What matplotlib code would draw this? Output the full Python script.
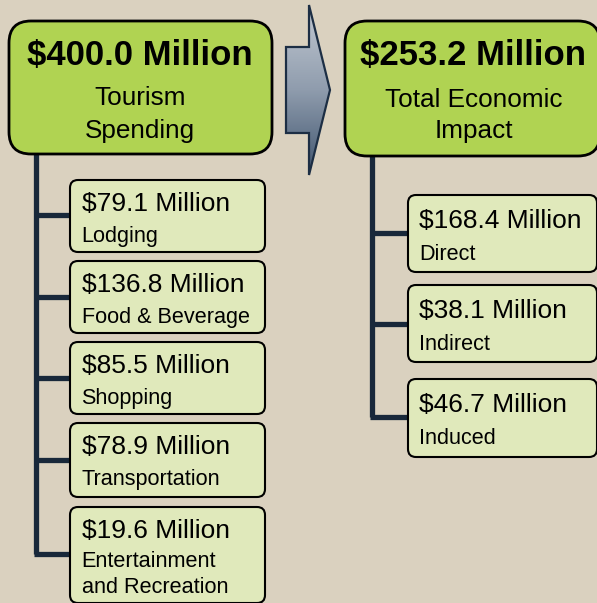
import matplotlib
matplotlib.use("Agg")
import matplotlib.pyplot as plt
import numpy as np
from matplotlib.patches import FancyBboxPatch, Polygon
from matplotlib.colors import LinearSegmentedColormap

# ---- data ----
total_spending = 400.0
total_spending_label = ["Tourism", "Spending"]
spend_values = [79.1, 136.8, 85.5, 78.9, 19.6]
spend_labels = ["Lodging", "Food & Beverage", "Shopping", "Transportation",
                "Entertainment\nand Recreation"]
total_impact = 253.2
total_impact_label = ["Total Economic", "Impact"]
impact_values = [168.4, 38.1, 46.7]
impact_labels = ["Direct", "Indirect", "Induced"]

BG = "#dad1bf"
BIG_FILL = "#b0d352"
SMALL_FILL = "#e0e9bb"
LINE = "#18283a"
FONT = ["Liberation Sans", "DejaVu Sans"]

W, H = 597, 603
fig = plt.figure(figsize=(W / 100, H / 100), dpi=100, facecolor=BG)
ax = fig.add_axes([0, 0, 1, 1])
ax.set_xlim(0, W)
ax.set_ylim(H, 0)
ax.axis("off")
ax.set_facecolor(BG)


def rbox(x0, y0, x1, y1, r, fill, lw):
    p = FancyBboxPatch((x0 + r, y0 + r), (x1 - x0) - 2 * r, (y1 - y0) - 2 * r,
                       boxstyle=f"round,pad={r},rounding_size={r}",
                       fc=fill, ec="black", lw=lw, zorder=3)
    ax.add_patch(p)


def fmt(v):
    return f"${v:.1f} Million"


TITLE_FS = 25
SUB_FS = 18.8
VAL_FS = 19
LAB_FS = 15.6

# ---- big boxes ----
rbox(9, 21, 272, 154, 22, BIG_FILL, 2.0)
ax.text(140, 65, fmt(total_spending), fontsize=TITLE_FS, fontweight="bold",
        family=FONT, ha="center", va="baseline", zorder=4)
ax.text(140, 105, total_spending_label[0], fontsize=SUB_FS, family=FONT,
        ha="center", va="baseline", zorder=4)
ax.text(140, 138, total_spending_label[1], fontsize=SUB_FS, family=FONT,
        ha="center", va="baseline", zorder=4)

rbox(345, 21, 600, 156, 22, BIG_FILL, 2.0)
ax.text(473, 65, fmt(total_impact), fontsize=TITLE_FS, fontweight="bold",
        family=FONT, ha="center", va="baseline", zorder=4)
ax.text(474, 107, total_impact_label[0], fontsize=SUB_FS, family=FONT,
        ha="center", va="baseline", zorder=4)
ax.text(474, 138, total_impact_label[1], fontsize=SUB_FS, family=FONT,
        ha="center", va="baseline", zorder=4)

# ---- arrow with gradient ----
arrow_pts = [(286, 47), (309, 47), (309, 5), (330, 90), (309, 175),
             (309, 133), (286, 133)]
grad = np.linspace(0, 1, 256).reshape(-1, 1)
cm = LinearSegmentedColormap.from_list("g", ["#c3cad3", "#8f9cad", "#3f546e"])
im = ax.imshow(grad, cmap=cm, extent=(286, 330, 175, 5), aspect="auto",
               zorder=2, interpolation="bilinear")
poly = Polygon(arrow_pts, closed=True, fc="none", ec="#1c2e44", lw=1.6, zorder=3)
ax.add_patch(poly)
im.set_clip_path(poly)
ax.set_xlim(0, W)
ax.set_ylim(H, 0)

# ---- left tree ----
left_tops = [180, 261, 342, 423, 507]
left_bottoms = [252, 333, 414, 497, 603]
left_branch = [215, 297, 378, 460, 554]
lx = 36
ax.plot([lx, lx], [154, left_branch[-1]], color=LINE, lw=3.8,
        solid_capstyle="butt", zorder=1)
for i, (v, lab) in enumerate(zip(spend_values, spend_labels)):
    t, b = left_tops[i], left_bottoms[i]
    ax.plot([lx - 1.9, 72], [left_branch[i]] * 2, color=LINE, lw=3.8,
            solid_capstyle="butt", zorder=1)
    rbox(70, t, 265, b, 8, SMALL_FILL, 1.5)
    ax.text(81.5, t + 31, fmt(v), fontsize=VAL_FS, family=FONT,
            ha="left", va="baseline", zorder=4)
    lines = lab.split("\n")
    base = t + 62 if len(lines) == 1 else t + 60
    for j, ln in enumerate(lines):
        ax.text(81.5, base + j * 26, ln, fontsize=LAB_FS, family=FONT,
                ha="left", va="baseline", zorder=4)

# ---- right tree ----
right_tops = [195, 285, 379]
right_bottoms = [272, 362, 457]
right_branch = [233, 324, 417]
rx = 372
ax.plot([rx, rx], [156, right_branch[-1]], color=LINE, lw=3.8,
        solid_capstyle="butt", zorder=1)
for i, (v, lab) in enumerate(zip(impact_values, impact_labels)):
    t, b = right_tops[i], right_bottoms[i]
    ax.plot([rx - 1.9, 410], [right_branch[i]] * 2, color=LINE, lw=3.8,
            solid_capstyle="butt", zorder=1)
    rbox(408, t, 597, b, 8, SMALL_FILL, 1.5)
    ax.text(419, t + 33, fmt(v), fontsize=VAL_FS, family=FONT,
            ha="left", va="baseline", zorder=4)
    ax.text(419, t + 65, lab, fontsize=LAB_FS, family=FONT,
            ha="left", va="baseline", zorder=4)

fig.savefig("out.png", dpi=100, facecolor=BG)
